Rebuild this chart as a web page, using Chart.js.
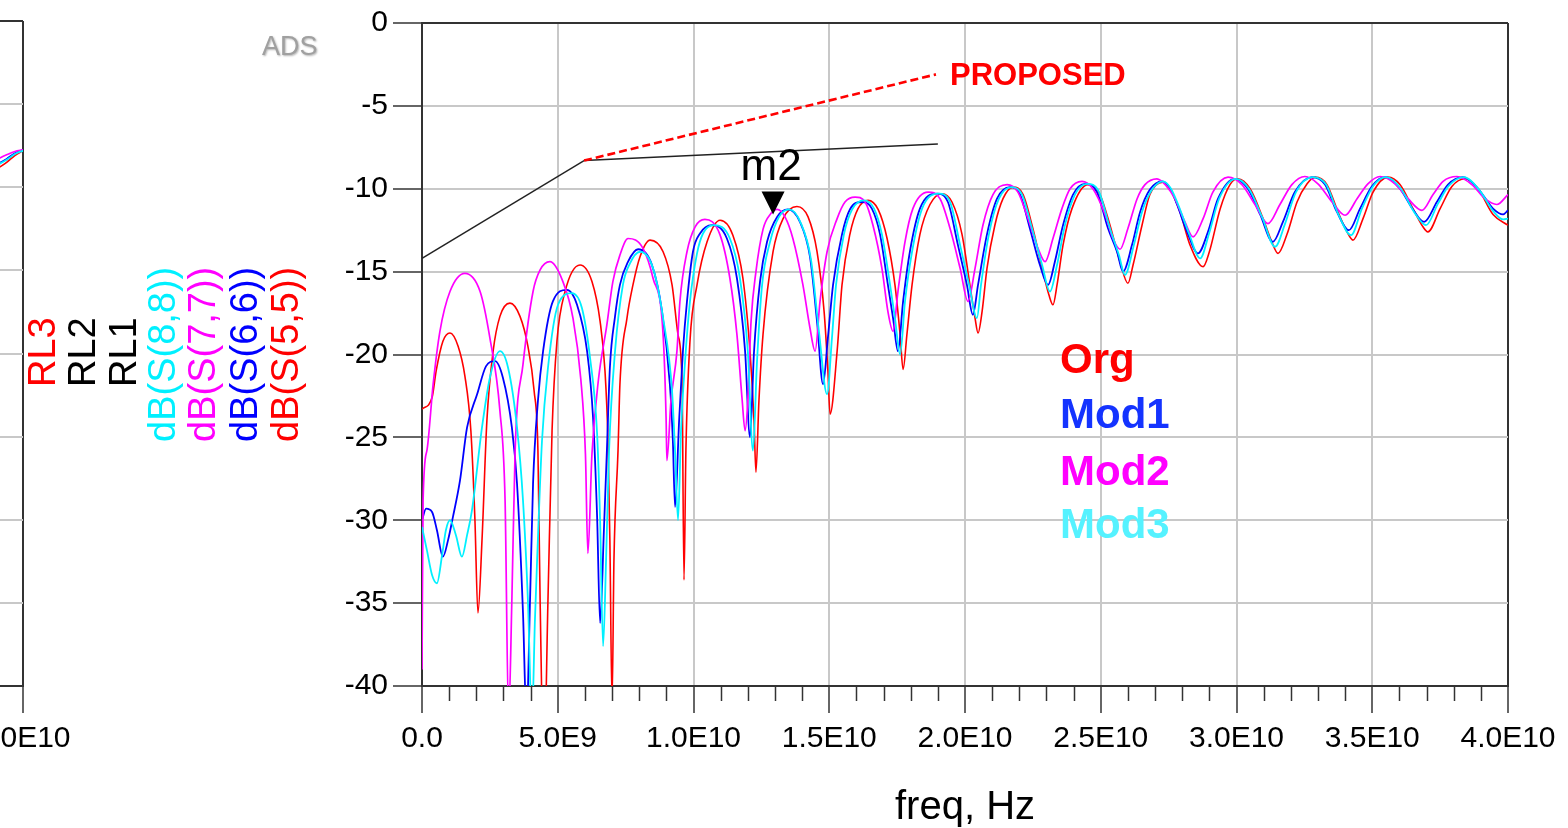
<!DOCTYPE html>
<html lang="en">
<head>
<meta charset="UTF-8">
<title>Return loss - dB(S(n,n))</title>
<script src="https://cdn.jsdelivr.net/npm/chart.js"></script>
<style>
  body { margin: 0; background: #fff; overflow: hidden; }
  #wrap { position: relative; width: 1568px; height: 828px; overflow: hidden; }
  #mainChart { position: absolute; left: 0; top: 0; }
  #sideChart { position: absolute; left: -200px; top: 0; }
</style>
</head>
<body>
<div id="wrap">
  <canvas id="mainChart" width="1568" height="828"></canvas>
  <canvas id="sideChart" width="300" height="828"></canvas>
</div>
<script>
// frequencies in GHz, values in dB
const orgPoints = [
  [0,-23.3],[0.37,-22.6],[0.52,-21.0],[0.77,-19.2],[1.03,-18.7],[1.33,-19.5],[1.58,-21.3],[1.80,-24.6],[1.95,-30.0],[2.06,-35.6],
  [2.21,-31.2],[2.39,-24.0],[2.62,-19.8],[2.87,-17.7],[3.24,-16.9],[3.61,-17.7],[3.90,-19.5],[4.13,-22.2],[4.27,-25.8],[4.35,-34.8],[4.49,-45],
  [4.64,-34.8],[4.79,-24.6],[4.97,-19.2],[5.27,-16.2],[5.82,-14.6],[6.26,-15.6],[6.56,-18.0],[6.74,-21.0],[6.85,-25.2],[6.92,-31.2],[7.00,-41],
  [7.07,-32.4],[7.22,-25.8],[7.29,-21.8],[7.55,-17.8],[7.77,-15.8],[8.03,-14.1],[8.40,-13.1],[8.88,-13.8],[9.21,-15.8],[9.43,-18.8],[9.58,-21.8],[9.65,-33.6],
  [9.72,-25.8],[9.87,-19.2],[10.13,-15.8],[10.50,-13.2],[10.98,-11.9],[11.45,-12.8],[11.82,-15.4],[12.08,-19.8],[12.23,-24.0],[12.30,-27.1],
  [12.41,-22.8],[12.56,-18.8],[12.93,-13.8],[13.30,-11.8],[13.81,-11.07],[14.22,-11.7],[14.55,-13.8],[14.81,-17.4],[14.95,-21.0],[15.03,-23.6],
  [15.29,-19.8],[15.47,-15.8],[15.76,-12.75],[16.06,-11.2],[16.43,-10.7],[16.80,-11.25],[17.13,-13.0],[17.42,-15.8],[17.61,-18.8],[17.72,-20.9],
  [17.86,-18.8],[18.05,-15.8],[18.34,-12.75],[18.71,-10.95],[19.15,-10.3],[19.52,-10.8],[19.89,-12.75],[20.18,-15.8],[20.37,-17.8],[20.48,-18.7],
  [20.63,-17.4],[20.81,-14.8],[21.10,-12.2],[21.40,-10.6],[21.77,-9.9],[22.14,-10.35],[22.50,-12.4],[22.87,-15.0],[23.09,-16.4],[23.24,-17.0],
  [23.39,-15.8],[23.61,-13.4],[23.94,-11.2],[24.53,-9.75],[24.97,-10.35],[25.34,-12.2],[25.71,-14.4],[26.00,-15.7],
  [26.19,-14.6],[26.52,-12.2],[26.81,-10.35],[27.29,-9.6],[27.55,-10.0],[27.92,-11.4],[28.29,-13.4],[28.77,-14.7],
  [29.00,-13.8],[29.40,-11.2],[29.76,-9.75],[30.05,-9.4],[30.50,-10.0],[30.98,-11.8],[31.30,-13.2],[31.53,-13.9],
  [31.86,-12.75],[32.23,-10.8],[32.60,-9.7],[32.90,-9.3],[33.33,-9.75],[33.74,-11.4],[34.07,-12.6],[34.29,-13.1],
  [34.66,-11.8],[35.03,-10.2],[35.58,-9.3],[36.02,-9.75],[36.50,-11.2],[36.83,-12.2],[37.05,-12.6],
  [37.50,-11.2],[37.94,-9.85],[38.42,-9.4],[38.90,-10.0],[39.45,-11.55],[40.0,-12.2]
];

const mod1Points = [
  [0,-30.0],[0.15,-29.3],[0.37,-29.5],[0.55,-30.6],[0.77,-32.2],[0.96,-31.2],[1.14,-29.8],[1.40,-27.6],[1.66,-24.4],[2.03,-22.4],[2.36,-20.7],[2.69,-20.4],[2.98,-21.4],[3.31,-24.4],[3.50,-27.8],[3.72,-35.6],[3.85,-42],
  [3.98,-34.8],[4.09,-27.8],[4.27,-22.8],[4.46,-19.8],[4.82,-16.8],[5.34,-16.1],[5.71,-17.0],[6.08,-19.8],[6.30,-23.8],[6.45,-29.8],[6.56,-36.2],
  [6.70,-30.6],[6.81,-25.8],[6.92,-20.8],[7.11,-17.7],[7.29,-15.8],[7.59,-14.4],[7.96,-13.65],[8.47,-14.6],[8.84,-17.4],[9.13,-21.8],[9.24,-25.2],[9.32,-29.2],
  [9.47,-24.0],[9.61,-19.8],[9.76,-16.8],[9.98,-13.8],[10.24,-12.7],[10.68,-12.2],[11.23,-13.0],[11.60,-15.4],[11.90,-19.8],[12.08,-25.0],
  [12.23,-19.8],[12.45,-15.6],[12.71,-13.2],[13.08,-11.7],[13.48,-11.25],[13.92,-12.0],[14.29,-14.1],[14.55,-18.0],[14.77,-21.8],
  [14.95,-19.0],[15.14,-15.8],[15.47,-12.75],[15.76,-11.25],[16.21,-10.8],[16.57,-11.2],[16.87,-12.75],[17.16,-15.8],[17.35,-17.8],[17.53,-19.8],
  [17.72,-16.8],[17.97,-13.8],[18.34,-11.2],[18.97,-10.3],[19.37,-10.8],[19.74,-13.4],[20.07,-15.8],[20.29,-17.6],
  [20.48,-15.8],[20.81,-12.75],[21.18,-10.6],[21.66,-9.9],[22.03,-10.35],[22.39,-12.4],[22.76,-14.6],[23.06,-15.8],
  [23.31,-14.4],[23.61,-12.2],[23.98,-10.35],[24.42,-9.7],[24.86,-10.2],[25.27,-12.4],[25.60,-13.8],[25.82,-15.0],
  [26.15,-13.4],[26.45,-11.4],[26.81,-10.05],[27.26,-9.55],[27.55,-9.95],[27.81,-10.95],[28.18,-12.6],[28.58,-13.9],
  [28.95,-12.6],[29.32,-10.6],[29.94,-9.4],[30.42,-10.0],[30.87,-11.55],[31.34,-13.2],
  [31.71,-12.0],[32.15,-10.2],[32.78,-9.3],[33.26,-9.75],[33.70,-11.4],[34.14,-12.5],
  [34.55,-11.2],[34.99,-9.85],[35.47,-9.3],[36.02,-10.0],[36.50,-11.25],[36.91,-12.0],
  [37.38,-10.8],[37.79,-9.75],[38.34,-9.3],[38.90,-10.0],[39.45,-11.2],[39.82,-11.55],[40.0,-11.3]
];

const mod2Points = [
  [0,-39.0],[0.04,-28.8],[0.18,-25.8],[0.41,-21.8],[0.66,-18.6],[1.03,-16.2],[1.58,-15.1],[2.14,-16.2],[2.50,-19.0],[2.87,-23.4],[3.06,-28.8],[3.19,-42],
  [3.31,-34.8],[3.43,-25.8],[3.72,-20.6],[4.09,-16.2],[4.35,-14.9],[4.71,-14.4],[5.19,-15.6],[5.56,-17.8],[5.85,-21.5],[6.02,-26.0],[6.11,-32.0],
  [6.26,-26.0],[6.50,-21.5],[6.81,-18.2],[7.03,-15.6],[7.29,-14.0],[7.59,-13.0],[8.14,-13.6],[8.51,-15.4],[8.88,-18.8],[8.99,-23.8],[9.02,-26.4],
  [9.17,-22.8],[9.39,-19.8],[9.50,-16.8],[9.76,-13.8],[10.06,-12.3],[10.42,-11.85],[10.97,-12.75],[11.34,-15.4],[11.60,-18.8],[11.79,-22.7],[11.90,-24.6],
  [12.00,-22.8],[12.12,-18.0],[12.30,-15.0],[12.56,-12.45],[12.85,-11.5],[13.08,-11.25],[13.37,-11.7],[13.66,-13.0],[14.03,-15.8],[14.29,-18.4],[14.48,-19.8],
  [14.66,-16.8],[14.92,-13.8],[15.29,-11.8],[15.58,-10.8],[15.95,-10.5],[16.32,-10.8],[16.61,-12.2],[16.94,-14.8],[17.16,-17.4],[17.35,-18.6],
  [17.53,-16.2],[17.79,-13.2],[18.08,-11.2],[18.64,-10.2],[19.08,-10.6],[19.45,-12.4],[19.82,-14.8],[20.11,-16.8],
  [20.37,-14.8],[20.66,-12.2],[21.03,-10.35],[21.55,-9.75],[21.95,-10.2],[22.32,-11.8],[22.69,-13.6],[22.95,-14.4],
  [23.24,-13.0],[23.57,-11.2],[23.87,-10.0],[24.31,-9.55],[24.71,-10.0],[25.16,-11.55],[25.45,-13.0],[25.71,-13.65],
  [26.00,-12.4],[26.34,-10.6],[26.63,-9.75],[27.07,-9.4],[27.40,-9.8],[27.73,-10.6],[28.10,-12.0],[28.40,-12.9],
  [28.77,-11.8],[29.13,-10.2],[29.69,-9.3],[30.20,-9.75],[30.68,-10.95],[31.16,-12.1],
  [31.60,-10.95],[32.04,-9.75],[32.52,-9.26],[33.00,-9.7],[33.52,-10.8],[34.00,-11.6],
  [34.44,-10.6],[34.84,-9.7],[35.29,-9.26],[35.84,-9.7],[36.32,-10.6],[36.83,-11.3],
  [37.24,-10.35],[37.61,-9.55],[38.12,-9.26],[38.67,-9.75],[39.15,-10.6],[39.59,-10.95],[40.0,-10.35]
];

const mod3Points = [
  [0,-30.4],[0.18,-31.8],[0.37,-33.3],[0.55,-33.8],[0.74,-32.1],[0.88,-30.6],[1.03,-30.0],[1.25,-30.9],[1.47,-32.2],[1.66,-30.9],[1.84,-29.4],[2.21,-24.4],[2.50,-21.4],[2.87,-19.8],[3.17,-20.8],[3.50,-24.4],[3.72,-28.8],[3.90,-34.8],[4.05,-42],
  [4.16,-36.0],[4.24,-32.4],[4.42,-25.2],[4.64,-20.8],[5.01,-17.0],[5.52,-16.3],[5.89,-17.2],[6.19,-20.2],[6.45,-24.8],[6.56,-30.0],[6.67,-37.6],
  [6.78,-32.4],[6.89,-25.8],[7.11,-19.8],[7.40,-15.8],[7.66,-14.5],[8.03,-13.8],[8.51,-14.8],[8.88,-17.8],[9.21,-22.2],[9.32,-25.8],[9.43,-30.0],
  [9.54,-24.6],[9.69,-20.4],[9.87,-16.8],[10.13,-13.9],[10.35,-12.7],[10.75,-12.2],[11.34,-13.0],[11.71,-15.4],[12.00,-19.8],[12.19,-25.8],
  [12.34,-20.4],[12.52,-15.9],[12.82,-13.2],[13.15,-11.7],[13.52,-11.25],[13.96,-12.1],[14.33,-14.3],[14.62,-18.6],[14.92,-22.4],
  [15.10,-19.0],[15.25,-15.8],[15.54,-12.75],[15.84,-11.25],[16.28,-10.7],[16.65,-11.2],[16.94,-12.75],[17.24,-15.8],[17.42,-17.8],[17.61,-20.0],
  [17.79,-16.8],[18.05,-13.8],[18.42,-11.2],[19.04,-10.3],[19.45,-10.8],[19.82,-13.4],[20.15,-15.8],[20.44,-17.8],
  [20.59,-15.8],[20.88,-12.75],[21.25,-10.6],[21.73,-9.9],[22.10,-10.35],[22.47,-12.4],[22.84,-14.6],[23.13,-16.2],
  [23.39,-14.6],[23.68,-12.2],[24.05,-10.35],[24.49,-9.7],[24.94,-10.2],[25.34,-12.4],[25.67,-14.0],[25.89,-15.2],
  [26.22,-13.4],[26.52,-11.4],[26.89,-10.05],[27.29,-9.55],[27.57,-9.95],[27.85,-10.95],[28.25,-12.7],[28.66,-14.2],
  [28.99,-12.7],[29.36,-10.6],[29.98,-9.4],[30.46,-10.0],[30.94,-11.7],[31.42,-13.5],
  [31.79,-12.1],[32.19,-10.2],[32.82,-9.3],[33.30,-9.75],[33.74,-11.5],[34.22,-12.8],
  [34.62,-11.2],[35.03,-9.85],[35.51,-9.3],[36.06,-10.0],[36.54,-11.4],[36.98,-12.2],
  [37.42,-10.9],[37.83,-9.8],[38.38,-9.3],[38.93,-10.05],[39.48,-11.4],[39.82,-11.85],[40.0,-11.8]
];

// limit lines
const rl1Points = [[0,-14.2],[5.97,-8.3]];
const rl2Points = [[5.97,-8.3],[19.0,-7.3]];
const rl3Points = [[5.97,-8.3],[18.93,-3.1]];

// marker m2
const markerName = ['m2'];
const markerFreq = [12.93];
const markerDb = [-11.55];

// right end of the neighbouring plot on the left
const sideOrg = [[38.6,-9.0],[39.2,-8.5],[39.6,-8.1],[40.0,-7.8]];
const sideMod1 = [[38.6,-8.7],[39.2,-8.3],[39.6,-7.95],[40.0,-7.75]];
const sideMod2 = [[38.6,-8.4],[39.2,-8.05],[39.6,-7.85],[40.0,-7.75]];
const sideMod3 = [[38.6,-8.75],[39.2,-8.35],[39.6,-8.0],[40.0,-7.8]];

const traceNames = ['dB(S(5,5))', 'dB(S(6,6))', 'dB(S(7,7))', 'dB(S(8,8))'];
const limitNames = ['RL1', 'RL2', 'RL3'];
const caseNames = ['Org', 'Mod1', 'Mod2', 'Mod3'];

const FONT = "Arial, 'Liberation Sans', sans-serif";
const RED = '#ff0000', BLUE = '#0000ff', MAGENTA = '#ff00ff', CYAN = '#00f0ff';

function toXY(pts) {
  return pts.map(p => ({ x: p[0], y: p[1] }));
}

function freqLabel(v) {
  if (v === 0) return '0.0';
  if (v < 10) return v.toFixed(1) + 'E9';
  return (v / 10).toFixed(1) + 'E10';
}

function trace(label, pts, color, width, smooth) {
  return {
    label: label,
    data: toXY(pts),
    showLine: true,
    borderColor: color,
    borderWidth: width || 1.7,
    pointRadius: 0,
    cubicInterpolationMode: smooth ? 'monotone' : 'default',
    tension: 0
  };
}

const darkOn = vals => c => (c.tick && vals.includes(c.tick.value)) ? '#333' : '#c8c8c8';

// draws minor ticks, the marker and all free text
const adsDecor = {
  id: 'adsDecor',
  afterDraw(chart) {
    const { ctx, chartArea: a, scales: { x, y } } = chart;
    ctx.save();

    // minor x ticks every 1E9
    ctx.strokeStyle = '#333';
    ctx.lineWidth = 1.5;
    for (let f = 1; f < 40; f++) {
      if (f % 5 === 0) continue;
      const px = Math.round(x.getPixelForValue(f)) + 0.5;
      ctx.beginPath();
      ctx.moveTo(px, a.bottom);
      ctx.lineTo(px, a.bottom + 15);
      ctx.stroke();
    }

    // marker
    const mx = x.getPixelForValue(markerFreq[0]);
    const my = y.getPixelForValue(markerDb[0]);
    ctx.fillStyle = '#000';
    ctx.beginPath();
    ctx.moveTo(mx, my);
    ctx.lineTo(mx - 11.5, my - 23);
    ctx.lineTo(mx + 11.5, my - 23);
    ctx.closePath();
    ctx.fill();
    ctx.font = '44px ' + FONT;
    ctx.textAlign = 'center';
    ctx.textBaseline = 'alphabetic';
    ctx.fillText(markerName[0], mx - 2, my - 34);

    // ADS watermark
    ctx.textAlign = 'left';
    ctx.font = '27px ' + FONT;
    ctx.fillStyle = '#a0a0a0';
    ctx.shadowColor = 'rgba(0,0,0,0.3)';
    ctx.shadowBlur = 2;
    ctx.shadowOffsetX = 1;
    ctx.shadowOffsetY = 1;
    ctx.fillText('ADS', 262, 55);
    ctx.shadowColor = 'transparent';

    // PROPOSED note
    ctx.font = 'bold 31px ' + FONT;
    ctx.fillStyle = RED;
    ctx.fillText('PROPOSED', 950, 85);

    // case labels
    const caseColors = [RED, '#1433ff', MAGENTA, '#55f2ff'];
    const caseBase = [373, 428, 485, 538];
    ctx.font = 'bold 42px ' + FONT;
    caseNames.forEach((n, i) => {
      ctx.fillStyle = caseColors[i];
      ctx.fillText(n, 1060, caseBase[i]);
    });

    // vertical trace legend
    const legend = [
      [limitNames[2], RED, 55, 387],
      [limitNames[1], '#000', 95, 387],
      [limitNames[0], '#000', 136, 387],
      [traceNames[3], CYAN, 175, 442],
      [traceNames[2], MAGENTA, 215, 442],
      [traceNames[1], BLUE, 257, 442],
      [traceNames[0], RED, 298, 442]
    ];
    ctx.font = '38px ' + FONT;
    legend.forEach(([txt, col, bx, by]) => {
      ctx.save();
      ctx.translate(bx, by);
      ctx.rotate(-Math.PI / 2);
      ctx.fillStyle = col;
      ctx.fillText(txt, 0, 0);
      ctx.restore();
    });

    ctx.restore();
  }
};

new Chart(document.getElementById('mainChart'), {
  type: 'scatter',
  data: {
    datasets: [
      Object.assign(trace(limitNames[2], rl3Points, RED, 2.6), { borderDash: [8, 4] }),
      trace(limitNames[1], rl2Points, '#222', 1.4),
      trace(limitNames[0], rl1Points, '#222', 1.4),
      trace(traceNames[3], mod3Points, CYAN, 1.8, true),
      trace(traceNames[2], mod2Points, MAGENTA, 1.7, true),
      trace(traceNames[1], mod1Points, BLUE, 1.8, true),
      trace(traceNames[0], orgPoints, RED, 1.6, true)
    ]
  },
  options: {
    responsive: false,
    animation: false,
    layout: { padding: { top: 21, right: 60, left: 0, bottom: 0 } },
    plugins: { legend: { display: false }, tooltip: { enabled: false } },
    scales: {
      x: {
        type: 'linear', min: 0, max: 40,
        ticks: {
          stepSize: 5, autoSkip: false, maxRotation: 0, padding: 8,
          color: '#000', font: { family: FONT, size: 30 }, callback: freqLabel
        },
        grid: { color: darkOn([0, 40]), lineWidth: 2, tickLength: 27, tickColor: '#333', tickWidth: 1.5 },
        border: { color: '#333', width: 2 },
        title: {
          display: true, text: 'freq, Hz', color: '#000',
          font: { family: FONT, size: 40 }, padding: { top: 0, bottom: -4 }
        },
        afterFit: s => { s.height = 142; }
      },
      y: {
        type: 'linear', min: -40, max: 0,
        ticks: { stepSize: 5, padding: 5, color: '#000', font: { family: FONT, size: 30 } },
        grid: { color: darkOn([0]), lineWidth: 2, tickLength: 29, tickColor: '#333', tickWidth: 1.5 },
        border: { color: '#333', width: 2 },
        afterFit: s => { s.width = 422; }
      }
    }
  },
  plugins: [adsDecor]
});

new Chart(document.getElementById('sideChart'), {
  type: 'scatter',
  data: {
    datasets: [
      trace(traceNames[3], sideMod3, CYAN, 1.8, true),
      trace(traceNames[2], sideMod2, MAGENTA, 1.7, true),
      trace(traceNames[1], sideMod1, BLUE, 1.8, true),
      trace(traceNames[0], sideOrg, RED, 1.6, true)
    ]
  },
  options: {
    responsive: false,
    animation: false,
    layout: { padding: { top: 21, right: 77, left: 0, bottom: 0 } },
    plugins: { legend: { display: false }, tooltip: { enabled: false } },
    scales: {
      x: {
        type: 'linear', min: 31.8, max: 40,
        ticks: {
          stepSize: 5, autoSkip: false, maxRotation: 0, padding: 8,
          color: '#000', font: { family: FONT, size: 30 }, callback: freqLabel
        },
        grid: { color: darkOn([40]), lineWidth: 2, tickLength: 27, tickColor: '#333', tickWidth: 1.5 },
        border: { color: '#333', width: 2 },
        afterFit: s => { s.height = 142; }
      },
      y: {
        type: 'linear', min: -40, max: 0,
        ticks: { stepSize: 5, display: false },
        grid: { color: darkOn([0]), lineWidth: 2, drawTicks: false },
        border: { display: false },
        afterFit: s => { s.width = 0; }
      }
    }
  }
});
</script>
</body>
</html>
